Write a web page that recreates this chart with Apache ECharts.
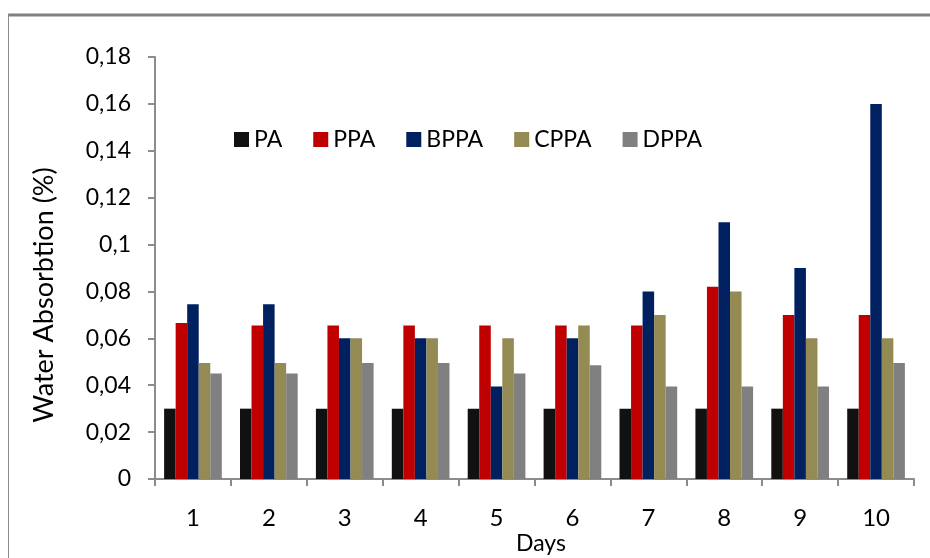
<!DOCTYPE html>
<html><head><meta charset="utf-8">
<script src="https://cdn.jsdelivr.net/npm/echarts@6/dist/echarts.min.js"></script>
<style>html,body{margin:0;padding:0;background:#fff}#c{width:930px;height:558px}</style>
</head><body><div id="c"></div>
<script>
const days = ['1','2','3','4','5','6','7','8','9','10'];
const seriesNames = ['PA','PPA','BPPA','CPPA','DPPA'];
const PA   = [0.030,0.030,0.030,0.030,0.030,0.030,0.030,0.030,0.030,0.030];
const PPA  = [0.0665,0.0655,0.0655,0.0655,0.0655,0.0655,0.0655,0.082,0.070,0.070];
const BPPA = [0.0745,0.0745,0.060,0.060,0.0395,0.060,0.080,0.1095,0.090,0.160];
const CPPA = [0.0495,0.0495,0.060,0.060,0.060,0.0655,0.070,0.080,0.060,0.060];
const DPPA = [0.045,0.045,0.0495,0.0495,0.045,0.0485,0.0395,0.0395,0.0395,0.0495];
const colors = ['#111111','#C00000','#002060','#948A54','#808080'];
const values = [PA,PPA,BPPA,CPPA,DPPA];
const yTitle = 'Water Absorbtion (%)';
const xTitle = 'Days';
const FONT = 'Lato';

const chart = echarts.init(document.getElementById('c'));
chart.setOption({
  animation:false,
  textStyle:{fontFamily:FONT},
  graphic:[
    {type:'line',shape:{x1:8,y1:15,x2:930,y2:15},style:{stroke:'#808080',lineWidth:3}},
    {type:'line',shape:{x1:8.5,y1:14,x2:8.5,y2:558},style:{stroke:'#8c8c8c',lineWidth:1}},
    {type:'text',x:44,y:295,rotation:Math.PI/2,
      style:{text:yTitle,fontFamily:FONT,fontSize:27,fill:'#000',align:'center',verticalAlign:'middle'}},
    {type:'text',x:541,y:544,
      style:{text:xTitle,fontFamily:FONT,fontSize:23,fill:'#000',align:'center',verticalAlign:'middle'}}
  ],
  legend:{
    left:229, top:123, itemWidth:15, itemHeight:15, itemGap:31,
    icon:'rect',
    textStyle:{fontFamily:FONT,fontSize:23,color:'#000'},
    data:seriesNames
  },
  grid:{left:155,right:16,top:57,bottom:79,containLabel:false,outerBoundsMode:'none'},
  xAxis:{
    type:'category', data:days,
    axisLine:{lineStyle:{color:'#8c8c8c',width:2}},
    axisTick:{show:true,length:7,lineStyle:{color:'#8c8c8c',width:2}},
    axisLabel:{fontFamily:FONT,fontSize:24,color:'#000',margin:27}
  },
  yAxis:{
    type:'value', min:0, max:0.18, interval:0.02,
    axisLine:{show:true,lineStyle:{color:'#8c8c8c',width:2}},
    axisTick:{show:true,length:7,lineStyle:{color:'#8c8c8c',width:2}},
    splitLine:{show:false},
    axisLabel:{fontFamily:FONT,fontSize:23,color:'#000',margin:24,
      formatter:v=>String(+v.toFixed(2)).replace('.',',')}
  },
  series: seriesNames.map((n,i)=>({
    name:n, type:'bar', data:values[i], barGap:'0%', barCategoryGap:'24%',
    itemStyle:{color:colors[i]}
  }))
});
</script></body></html>
